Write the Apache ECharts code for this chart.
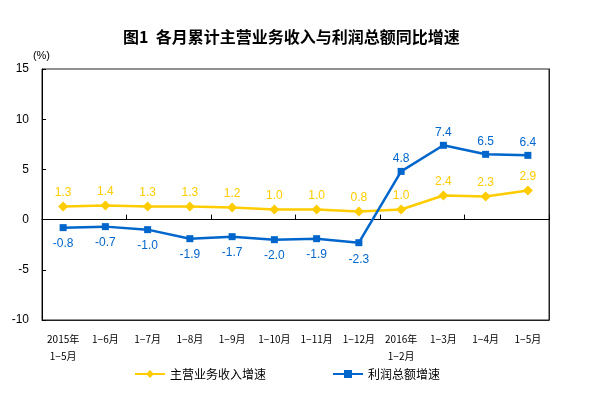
<!DOCTYPE html>
<html><head><meta charset="utf-8">
<script src="https://cdn.jsdelivr.net/npm/echarts@6/dist/echarts.min.js"></script>
<style>html,body{margin:0;padding:0;background:#fff}#c{width:594px;height:397px}</style>
</head><body><div id="c"></div>
<script>
const categories = ['2015年\n1−5月','1−6月','1−7月','1−8月','1−9月','1−10月','1−11月','1−12月','2016年\n1−2月','1−3月','1−4月','1−5月'];
const revenueGrowth = [1.3,1.4,1.3,1.3,1.2,1.0,1.0,0.8,1.0,2.4,2.3,2.9];
const profitGrowth = [-0.8,-0.7,-1.0,-1.9,-1.7,-2.0,-1.9,-2.3,4.8,7.4,6.5,6.4];
const yTicks = {min:-10,max:15,interval:5};
const seriesNames = ['主营业务收入增速','利润总额增速'];
const titleText = '图1  各月累计主营业务收入与利润总额同比增速';

const YELLOW = '#FFCC00', BLUE = '#0066CC';
const chart = echarts.init(document.getElementById('c'));
const lbl = (color) => ({show:true,color:color,fontSize:12,fontFamily:'Liberation Sans, Arial',formatter:p=>p.value.toFixed(1)});
chart.setOption({
  animation:false,
  title:{text:titleText,left:118,top:24,textStyle:{fontSize:16,fontWeight:'bold',color:'#000',fontFamily:'Noto Sans CJK SC'}},
  grid:{left:42,right:45,top:69,bottom:77,show:true,borderColor:'#222',borderWidth:1,backgroundColor:'transparent'},
  legend:{bottom:12,left:129,itemGap:66,itemWidth:30,itemHeight:10,
    textStyle:{fontSize:12,color:'#000',fontFamily:'Noto Sans CJK SC'},
    data:seriesNames},
  xAxis:[
    {type:'category',data:categories,boundaryGap:true,
     axisLine:{onZero:true,lineStyle:{color:'#000',width:1}},
     axisTick:{show:true,inside:true,length:5,lineStyle:{color:'#000'}},
     axisLabel:{show:false}},
    {type:'category',data:categories,boundaryGap:true,position:'bottom',
     axisLine:{show:true,onZero:false,lineStyle:{color:'#222'}},axisTick:{show:false},
     axisLabel:{show:true,interval:0,margin:11,fontSize:10,lineHeight:17,color:'#000',fontFamily:'Noto Sans CJK SC'}}
  ],
  yAxis:[
    {type:'value',min:yTicks.min,max:yTicks.max,interval:yTicks.interval,
    name:'(%)',nameLocation:'end',nameGap:8,
    nameTextStyle:{fontSize:11,color:'#000',align:'right',padding:[0,-8,0,0],fontFamily:'Liberation Sans'},
    axisLine:{show:true,lineStyle:{color:'#000'}},
    axisTick:{show:true,inside:true,length:4,lineStyle:{color:'#000'}},
    axisLabel:{fontSize:12,color:'#000',margin:13,fontFamily:'Liberation Sans, Arial'},
    splitLine:{show:false}},
    {type:'value',position:'right',min:yTicks.min,max:yTicks.max,interval:yTicks.interval,
    axisLine:{show:true,lineStyle:{color:'#222'}},axisTick:{show:false},axisLabel:{show:false},splitLine:{show:false}}
  ],
  series:[
    {name:seriesNames[0],type:'line',xAxisIndex:0,data:revenueGrowth,
     symbol:'diamond',symbolSize:10,
     lineStyle:{color:YELLOW,width:2.5},itemStyle:{color:YELLOW},
     label:Object.assign(lbl(YELLOW),{position:'top',distance:3})},
    {name:seriesNames[1],type:'line',xAxisIndex:0,
     data:profitGrowth.map(v=>({value:v,label:{position:v<0?'bottom':'top',distance:v<0?7:3}})),
     symbol:'rect',symbolSize:7,
     lineStyle:{color:BLUE,width:2.5},itemStyle:{color:BLUE},
     label:lbl(BLUE)}
  ]
});
</script></body></html>
